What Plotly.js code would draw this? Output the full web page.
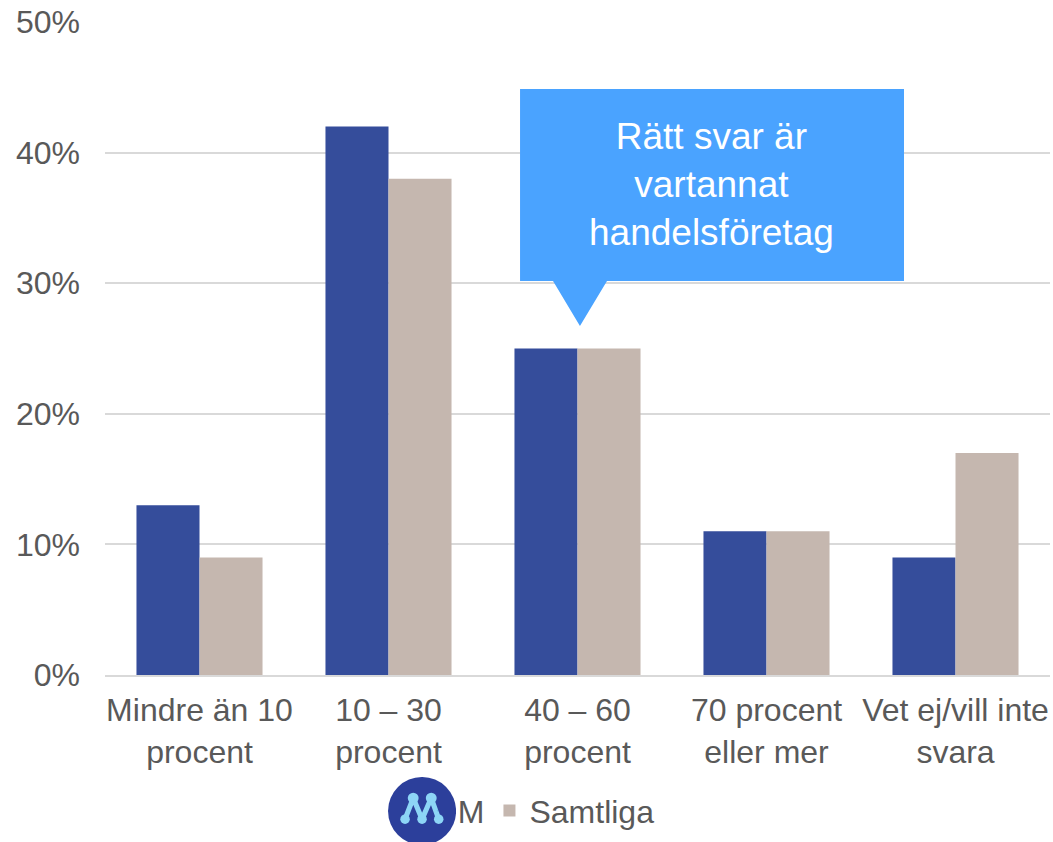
<!DOCTYPE html>
<html>
<head>
<meta charset="utf-8">
<script src="https://cdn.plot.ly/plotly-3.0.1.min.js"></script>
<style>html,body{margin:0;padding:0;background:#fff;}#chart{width:1053px;height:842px;}</style>
</head>
<body>
<div id="chart"></div>
<script>
const categories = ["Mindre än 10<br>procent", "10 – 30<br>procent", "40 – 60<br>procent", "70 procent<br>eller mer", "Vet ej/vill inte<br>svara"];
const seriesM = [13, 42, 25, 11, 9];
const seriesSamtliga = [9, 38, 25, 11, 17];
const seriesNames = ["M", "Samtliga"];
const yTickValues = [0, 10, 20, 30, 40, 50];
const yTickLabels = ["0%", "10%", "20%", "30%", "40%", "50%"];
const calloutText = "Rätt svar är<br>vartannat<br>handelsföretag";

const FONT = '"Liberation Sans", Arial, sans-serif';
const GREY = '#595959';

const logoSvg = '<svg xmlns="http://www.w3.org/2000/svg" viewBox="-1 -1 2 2">' +
  '<circle r="1" fill="#2C3F9B"/>' +
  '<polyline points="-0.5,0.24 -0.26,-0.38 0,0.24 0.27,-0.38 0.49,0.24" fill="none" stroke="#8DD5F6" stroke-width="0.15" stroke-linejoin="round"/>' +
  '<g fill="#8DD5F6"><circle cx="-0.26" cy="-0.38" r="0.16"/><circle cx="0.27" cy="-0.38" r="0.16"/>' +
  '<circle cx="-0.5" cy="0.24" r="0.14"/><circle cx="0" cy="0.24" r="0.14"/><circle cx="0.49" cy="0.24" r="0.14"/></g></svg>';
const logoUri = 'data:image/svg+xml;charset=utf-8,' + encodeURIComponent(logoSvg);

const traces = [
  {type: 'scatter', mode: 'markers', x: [null], y: [null], name: seriesNames[0],
   marker: {opacity: 0, size: 1}, hoverinfo: 'skip', showlegend: true},
  {type: 'bar', x: categories, y: seriesM, name: seriesNames[0], showlegend: false,
   marker: {color: '#354D9B'}},
  {type: 'bar', x: categories, y: seriesSamtliga, name: seriesNames[1],
   marker: {color: '#C5B7AF'}}
];

const layout = {
  width: 1053, height: 842,
  margin: {l: 105, r: 3, t: 22, b: 167},
  paper_bgcolor: '#ffffff', plot_bgcolor: '#ffffff',
  font: {family: FONT, color: GREY, size: 32},
  barmode: 'group', bargap: 0.333, bargroupgap: 0,
  xaxis: {
    type: 'category', showgrid: false, zeroline: false,
    showline: true, linecolor: '#D9D9D9', linewidth: 2,
    ticks: '', tickfont: {size: 32, color: GREY}, ticklabelstandoff: 6,
    fixedrange: true
  },
  yaxis: {
    range: [0, 50], tickmode: 'array', tickvals: yTickValues, ticktext: yTickLabels,
    showgrid: true, gridcolor: '#D9D9D9', gridwidth: 2,
    zeroline: false, showline: false, ticks: '',
    tickfont: {size: 32, color: GREY}, ticklabelstandoff: 24,
    fixedrange: true
  },
  showlegend: true,
  legend: {
    orientation: 'h', x: 0.331, xanchor: 'left', y: -0.208, yanchor: 'middle',
    font: {size: 32, color: GREY}, bgcolor: 'rgba(0,0,0,0)'
  },
  shapes: [
    {type: 'path', xref: 'paper', yref: 'paper',
     path: 'M 0.4392 0.6034 L 0.4741 0.6034 L 0.5026 0.5345 L 0.5312 0.6034 L 0.8455 0.6034 L 0.8455 0.8974 L 0.4392 0.8974 Z',
     fillcolor: '#4AA3FF', line: {width: 0}, layer: 'above'}
  ],
  annotations: [
    {xref: 'paper', yref: 'paper', x: 0.6423, y: 0.7504, xanchor: 'center', yanchor: 'middle',
     text: calloutText, showarrow: false, align: 'center',
     font: {family: FONT, size: 37, color: '#ffffff'}}
  ],
  images: [
    {source: logoUri, xref: 'paper', yref: 'paper', x: 0.2995, y: -0.1562,
     sizex: 0.072, sizey: 0.1041, xanchor: 'left', yanchor: 'top', sizing: 'stretch', layer: 'above'}
  ]
};

Plotly.newPlot('chart', traces, layout, {displayModeBar: false, staticPlot: true});
</script>
</body>
</html>
